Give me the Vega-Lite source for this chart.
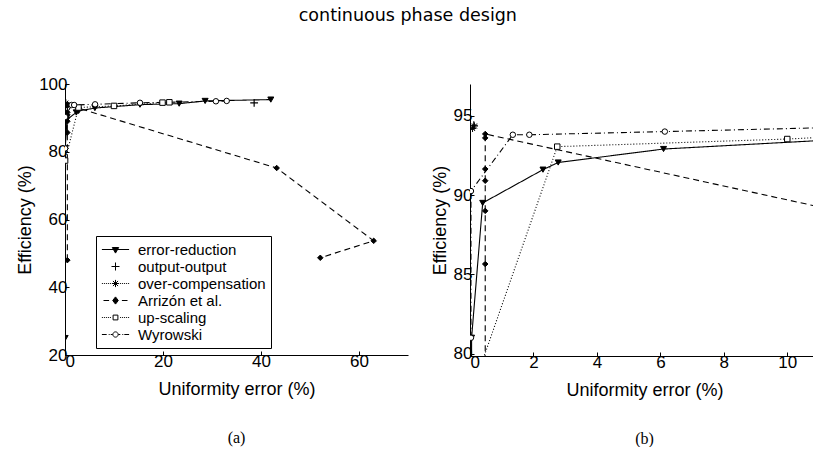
{
  "$schema": "https://vega.github.io/schema/vega-lite/v6.json",
  "padding": {"left": 16, "top": 6, "right": 0, "bottom": 0},
  "background": "white",
  "title": {"text": "continuous phase design", "font": "DejaVu Sans", "fontSize": 17.5, "fontWeight": "normal", "color": "black", "anchor": "middle", "offset": 51, "dx": -10},
  "config": {
    "view": {"stroke": null},
    "axis": {"grid": false, "domainColor": "black", "tickColor": "black", "labelColor": "black", "titleColor": "black", "labelFont": "Liberation Sans", "titleFont": "Liberation Sans", "labelFontSize": 17, "titleFontSize": 18, "titleFontWeight": "normal", "tickSize": -4, "labelPadding": 2, "domainWidth": 1, "tickWidth": 1},
    "axisX": {"titlePadding": 11},
    "axisY": {"titlePadding": 4},
    "title": {"font": "Liberation Serif", "fontSize": 16, "fontWeight": "normal", "color": "black"}
  },
  "datasets": {
    "pts": [
      {"method": "error-reduction", "ord": 1, "x": 0.03, "y": 25},
      {"method": "error-reduction", "ord": 2, "x": 0.05, "y": 81},
      {"method": "error-reduction", "ord": 3, "x": 0.4, "y": 89.5},
      {"method": "error-reduction", "ord": 4, "x": 2.3, "y": 91.6},
      {"method": "error-reduction", "ord": 5, "x": 2.78, "y": 92.05},
      {"method": "error-reduction", "ord": 6, "x": 6.1, "y": 92.9},
      {"method": "error-reduction", "ord": 7, "x": 15.3, "y": 93.9},
      {"method": "error-reduction", "ord": 8, "x": 23.3, "y": 94.2},
      {"method": "error-reduction", "ord": 9, "x": 28.6, "y": 95.0},
      {"method": "error-reduction", "ord": 10, "x": 42.0, "y": 95.4},
      {"method": "output-output", "ord": 1, "x": 0.12, "y": 94.4},
      {"method": "output-output", "ord": 2, "x": 38.6, "y": 94.4},
      {"method": "over-compensation", "ord": 1, "x": 0.08, "y": 94.2},
      {"method": "over-compensation", "ord": 2, "x": 0.14, "y": 94.35},
      {"method": "Arrizón et al.", "ord": 1, "x": 0.48, "y": 48.0},
      {"method": "Arrizón et al.", "ord": 2, "x": 0.48, "y": 85.65},
      {"method": "Arrizón et al.", "ord": 3, "x": 0.48, "y": 89.0},
      {"method": "Arrizón et al.", "ord": 4, "x": 0.48, "y": 90.9},
      {"method": "Arrizón et al.", "ord": 5, "x": 0.48, "y": 91.64},
      {"method": "Arrizón et al.", "ord": 6, "x": 0.48, "y": 93.6},
      {"method": "Arrizón et al.", "ord": 7, "x": 0.48, "y": 93.85},
      {"method": "Arrizón et al.", "ord": 8, "x": 43.2, "y": 75.2},
      {"method": "Arrizón et al.", "ord": 9, "x": 63.0, "y": 53.7},
      {"method": "Arrizón et al.", "ord": 10, "x": 52.1, "y": 48.7},
      {"method": "up-scaling", "ord": 1, "x": 0.02, "y": 77.4},
      {"method": "up-scaling", "ord": 2, "x": 2.75, "y": 93.05},
      {"method": "up-scaling", "ord": 3, "x": 10.0, "y": 93.53},
      {"method": "up-scaling", "ord": 4, "x": 19.9, "y": 94.5},
      {"method": "up-scaling", "ord": 5, "x": 21.3, "y": 94.6},
      {"method": "Wyrowski", "ord": 1, "x": 0.03, "y": 81.0},
      {"method": "Wyrowski", "ord": 2, "x": 0.03, "y": 90.25},
      {"method": "Wyrowski", "ord": 3, "x": 1.35, "y": 93.8},
      {"method": "Wyrowski", "ord": 4, "x": 1.87, "y": 93.8},
      {"method": "Wyrowski", "ord": 5, "x": 6.14, "y": 94.0},
      {"method": "Wyrowski", "ord": 6, "x": 15.3, "y": 94.45},
      {"method": "Wyrowski", "ord": 7, "x": 30.8, "y": 94.9},
      {"method": "Wyrowski", "ord": 8, "x": 33.0, "y": 95.0}
    ]
  },
  "spacing": 23,
  "hconcat": [
    {
      "width": 343,
      "height": 271,
      "title": {"text": "(a)", "orient": "bottom", "offset": 32, "anchor": "middle"},
      "layer": [
        {
          "data": {"name": "pts"},
          "transform": [{"filter": "datum.method !== 'output-output'"}],
          "mark": {"type": "line", "stroke": "black", "strokeWidth": 1.1, "clip": true},
          "encoding": {
            "x": {"field": "x", "type": "quantitative", "scale": {"domain": [0, 70], "nice": false}, "axis": {"values": [0, 20, 40, 60], "title": "Uniformity error (%)"}},
            "y": {"field": "y", "type": "quantitative", "scale": {"domain": [20, 100], "nice": false, "zero": false}, "axis": {"values": [20, 40, 60, 80, 100], "title": "Efficiency (%)"}},
            "strokeDash": {"field": "method", "type": "nominal", "scale": {"domain": ["error-reduction", "over-compensation", "Arrizón et al.", "up-scaling", "Wyrowski"], "range": [[1, 0], [1, 2], [6, 4], [1, 2], [6, 3, 1, 3]]}, "legend": null},
            "order": {"field": "ord", "type": "quantitative"}
          }
        },
        {"data": {"name": "pts"}, "transform": [{"filter": "datum.method === 'error-reduction'"}], "mark": {"type": "point", "shape": "triangle-down", "filled": true, "fill": "black", "stroke": "black", "strokeWidth": 1, "size": 36, "opacity": 1, "clip": true}, "encoding": {"x": {"field": "x", "type": "quantitative"}, "y": {"field": "y", "type": "quantitative"}}},
        {"data": {"name": "pts"}, "transform": [{"filter": "datum.method === 'output-output'"}], "mark": {"type": "point", "shape": "M-1.3,0H1.3M0,-1.3V1.3", "stroke": "black", "strokeWidth": 1.2, "size": 36, "opacity": 1, "clip": true}, "encoding": {"x": {"field": "x", "type": "quantitative"}, "y": {"field": "y", "type": "quantitative"}}},
        {"data": {"name": "pts"}, "transform": [{"filter": "datum.method === 'over-compensation'"}], "mark": {"type": "point", "shape": "M-1.2,0H1.2M0,-1.2V1.2M-0.85,-0.85L0.85,0.85M-0.85,0.85L0.85,-0.85", "stroke": "black", "strokeWidth": 1, "size": 36, "opacity": 1, "clip": true}, "encoding": {"x": {"field": "x", "type": "quantitative"}, "y": {"field": "y", "type": "quantitative"}}},
        {"data": {"name": "pts"}, "transform": [{"filter": "datum.method === 'Arrizón et al.'"}], "mark": {"type": "point", "shape": "diamond", "filled": true, "fill": "black", "stroke": "black", "strokeWidth": 1, "size": 30, "opacity": 1, "clip": true}, "encoding": {"x": {"field": "x", "type": "quantitative"}, "y": {"field": "y", "type": "quantitative"}}},
        {"data": {"name": "pts"}, "transform": [{"filter": "datum.method === 'up-scaling'"}], "mark": {"type": "point", "shape": "square", "filled": true, "fill": "white", "stroke": "black", "strokeWidth": 1, "size": 30, "opacity": 1, "clip": true}, "encoding": {"x": {"field": "x", "type": "quantitative"}, "y": {"field": "y", "type": "quantitative"}}},
        {"data": {"name": "pts"}, "transform": [{"filter": "datum.method === 'Wyrowski'"}], "mark": {"type": "point", "shape": "circle", "filled": true, "fill": "white", "stroke": "black", "strokeWidth": 1, "size": 30, "opacity": 1, "clip": true}, "encoding": {"x": {"field": "x", "type": "quantitative"}, "y": {"field": "y", "type": "quantitative"}}},
        {
          "data": {"name": "pts"},
          "transform": [{"filter": "false"}],
          "mark": {"type": "point", "strokeWidth": 1, "opacity": 1},
          "encoding": {
            "x": {"field": "x", "type": "quantitative"},
            "y": {"field": "y", "type": "quantitative"},
            "shape": {"field": "method", "type": "nominal",
              "scale": {"domain": ["error-reduction", "output-output", "over-compensation", "Arrizón et al.", "up-scaling", "Wyrowski"],
                "range": [
                  "M-1.7,0H1.7M-0.4,-0.25L0.4,-0.25L0,0.45Z",
                  "M-0.5,0H0.5M0,-0.5V0.5",
                  "M-1.7,0h0.12M-1.45,0h0.12M-1.2,0h0.12M-0.95,0h0.12M-0.7,0h0.12M0.58,0h0.12M0.83,0h0.12M1.08,0h0.12M1.33,0h0.12M1.58,0h0.12M-0.45,0H0.45M0,-0.45V0.45M-0.32,-0.32L0.32,0.32M-0.32,0.32L0.32,-0.32",
                  "M-1.5,0H-0.8M0.8,0H1.5M0,-0.45L0.35,0L0,0.45L-0.35,0Z",
                  "M-1.7,0h0.12M-1.45,0h0.12M-1.2,0h0.12M-0.95,0h0.12M-0.7,0h0.12M0.58,0h0.12M0.83,0h0.12M1.08,0h0.12M1.33,0h0.12M1.58,0h0.12M-0.3,-0.3H0.3V0.3H-0.3Z",
                  "M-1.7,0H-1.1M-0.85,0h0.12M-0.6,0H-0.35M0.35,0H0.6M0.85,0h0.12M1.1,0H1.7M0.33,0A0.33,0.33 0 1,1 -0.33,0A0.33,0.33 0 1,1 0.33,0Z"
                ]},
              "legend": {"title": null, "orient": "none", "legendX": 31, "legendY": 152, "strokeColor": "black", "fillColor": "white", "padding": 5, "symbolSize": 256, "symbolOffset": 6, "labelOffset": 14, "labelFont": "Liberation Sans", "labelFontSize": 15, "labelColor": "black", "rowPadding": 0, "symbolStrokeColor": "black", "symbolStrokeWidth": 1}},
            "fill": {"field": "method", "type": "nominal",
              "scale": {"domain": ["error-reduction", "output-output", "over-compensation", "Arrizón et al.", "up-scaling", "Wyrowski"], "range": ["black", "white", "white", "black", "white", "white"]},
              "legend": {"title": null, "orient": "none", "legendX": 31, "legendY": 152, "strokeColor": "black", "fillColor": "white", "padding": 5, "symbolSize": 256, "symbolOffset": 6, "labelOffset": 14, "labelFont": "Liberation Sans", "labelFontSize": 15, "labelColor": "black", "rowPadding": 0, "symbolStrokeColor": "black", "symbolStrokeWidth": 1}},
            "stroke": {"field": "method", "type": "nominal",
              "scale": {"domain": ["error-reduction", "output-output", "over-compensation", "Arrizón et al.", "up-scaling", "Wyrowski"], "range": ["black", "black", "black", "black", "black", "black"]},
              "legend": {"title": null, "orient": "none", "legendX": 31, "legendY": 152, "strokeColor": "black", "fillColor": "white", "padding": 5, "symbolSize": 256, "symbolOffset": 6, "labelOffset": 14, "labelFont": "Liberation Sans", "labelFontSize": 15, "labelColor": "black", "rowPadding": 0, "symbolStrokeColor": "black", "symbolStrokeWidth": 1}}
          }
        }
      ]
    },
    {
      "width": 349,
      "height": 272,
      "title": {"text": "(b)", "orient": "bottom", "offset": 32, "anchor": "middle"},
      "layer": [
        {
          "data": {"name": "pts"},
          "transform": [{"filter": "datum.method !== 'output-output'"}],
          "mark": {"type": "line", "stroke": "black", "strokeWidth": 1.1, "clip": true},
          "encoding": {
            "x": {"field": "x", "type": "quantitative", "scale": {"domain": [0, 11], "nice": false}, "axis": {"values": [0, 2, 4, 6, 8, 10], "title": "Uniformity error (%)"}},
            "y": {"field": "y", "type": "quantitative", "scale": {"domain": [79.85, 97], "nice": false, "zero": false}, "axis": {"values": [80, 85, 90, 95], "title": "Efficiency (%)"}},
            "strokeDash": {"field": "method", "type": "nominal", "scale": {"domain": ["error-reduction", "over-compensation", "Arrizón et al.", "up-scaling", "Wyrowski"], "range": [[1, 0], [1, 2], [6, 4], [1, 2], [6, 3, 1, 3]]}, "legend": null},
            "order": {"field": "ord", "type": "quantitative"}
          }
        },
        {"data": {"name": "pts"}, "transform": [{"filter": "datum.method === 'error-reduction'"}], "mark": {"type": "point", "shape": "triangle-down", "filled": true, "fill": "black", "stroke": "black", "strokeWidth": 1, "size": 36, "opacity": 1, "clip": true}, "encoding": {"x": {"field": "x", "type": "quantitative"}, "y": {"field": "y", "type": "quantitative"}}},
        {"data": {"name": "pts"}, "transform": [{"filter": "datum.method === 'output-output'"}], "mark": {"type": "point", "shape": "M-1.3,0H1.3M0,-1.3V1.3", "stroke": "black", "strokeWidth": 1.2, "size": 36, "opacity": 1, "clip": true}, "encoding": {"x": {"field": "x", "type": "quantitative"}, "y": {"field": "y", "type": "quantitative"}}},
        {"data": {"name": "pts"}, "transform": [{"filter": "datum.method === 'over-compensation'"}], "mark": {"type": "point", "shape": "M-1.2,0H1.2M0,-1.2V1.2M-0.85,-0.85L0.85,0.85M-0.85,0.85L0.85,-0.85", "stroke": "black", "strokeWidth": 1, "size": 36, "opacity": 1, "clip": true}, "encoding": {"x": {"field": "x", "type": "quantitative"}, "y": {"field": "y", "type": "quantitative"}}},
        {"data": {"name": "pts"}, "transform": [{"filter": "datum.method === 'Arrizón et al.'"}], "mark": {"type": "point", "shape": "diamond", "filled": true, "fill": "black", "stroke": "black", "strokeWidth": 1, "size": 30, "opacity": 1, "clip": true}, "encoding": {"x": {"field": "x", "type": "quantitative"}, "y": {"field": "y", "type": "quantitative"}}},
        {"data": {"name": "pts"}, "transform": [{"filter": "datum.method === 'up-scaling'"}], "mark": {"type": "point", "shape": "square", "filled": true, "fill": "white", "stroke": "black", "strokeWidth": 1, "size": 30, "opacity": 1, "clip": true}, "encoding": {"x": {"field": "x", "type": "quantitative"}, "y": {"field": "y", "type": "quantitative"}}},
        {"data": {"name": "pts"}, "transform": [{"filter": "datum.method === 'Wyrowski'"}], "mark": {"type": "point", "shape": "circle", "filled": true, "fill": "white", "stroke": "black", "strokeWidth": 1, "size": 30, "opacity": 1, "clip": true}, "encoding": {"x": {"field": "x", "type": "quantitative"}, "y": {"field": "y", "type": "quantitative"}}}
      ]
    }
  ]
}
